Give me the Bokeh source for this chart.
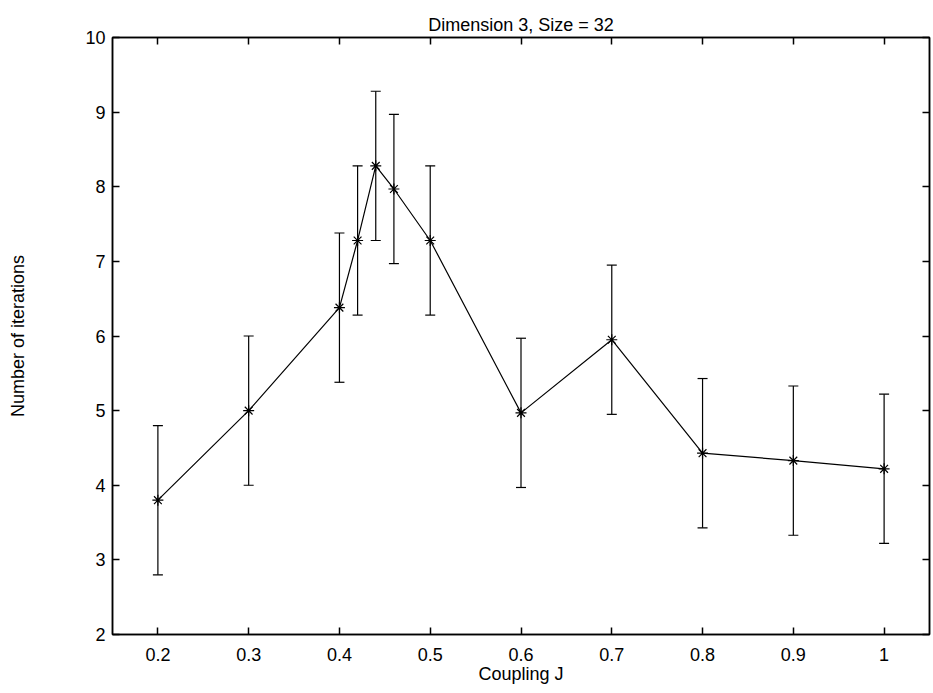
from bokeh.plotting import figure
from bokeh.models import LinearAxis, Whisker, ColumnDataSource, FixedTicker, CustomJSTickFormatter, TeeHead
from bokeh.embed import file_html
from bokeh.resources import INLINE

coupling = [0.2, 0.3, 0.4, 0.42, 0.44, 0.46, 0.5, 0.6, 0.7, 0.8, 0.9, 1.0]
iterations = [3.8, 5.0, 6.38, 7.28, 8.28, 7.97, 7.28, 4.97, 5.95, 4.43, 4.33, 4.22]
err = [1.0] * len(coupling)
x_ticks = [0.2, 0.3, 0.4, 0.5, 0.6, 0.7, 0.8, 0.9, 1.0]
y_ticks = [2, 3, 4, 5, 6, 7, 8, 9, 10]

upper = [v + e for v, e in zip(iterations, err)]
lower = [v - e for v, e in zip(iterations, err)]
src = ColumnDataSource(dict(x=coupling, y=iterations, upper=upper, lower=lower))

FONT = "Liberation Sans"
FS = "18px"

p = figure(width=933, height=693, x_range=(0.15, 1.05), y_range=(2, 10),
           output_backend="svg", toolbar_location=None,
           min_border_left=112, min_border_right=4, min_border_top=37, min_border_bottom=59)
p.title.text = "Dimension 3, Size = 32"
p.title.align = "center"
p.title.offset = 10
p.title.text_font = FONT
p.title.text_font_size = FS
p.title.text_font_style = "normal"
p.title.text_color = "black"
p.title.standoff = 6
p.grid.visible = False
p.outline_line_color = "black"
p.outline_line_width = 1.5
p.background_fill_color = "white"
p.border_fill_color = "white"

for ax in (p.xaxis[0], p.yaxis[0]):
    ax.major_tick_in = 7
    ax.major_tick_out = 0
    ax.minor_tick_line_color = None
    ax.major_label_text_font = FONT
    ax.major_label_text_font_size = FS
    ax.major_label_text_color = "black"
    ax.axis_label_text_font = FONT
    ax.axis_label_text_font_size = FS
    ax.axis_label_text_font_style = "normal"
    ax.axis_label_text_color = "black"
    ax.axis_line_width = 1.5
    ax.major_tick_line_width = 1.5

p.xaxis[0].ticker = FixedTicker(ticks=x_ticks)
p.yaxis[0].ticker = FixedTicker(ticks=y_ticks)
p.xaxis[0].axis_label = "Coupling J"
p.yaxis[0].axis_label = "Number of iterations"
p.xaxis[0].major_label_standoff = 13
p.xaxis[0].axis_label_standoff = 0
p.yaxis[0].major_label_standoff = 7
p.yaxis[0].axis_label_standoff = 54
p.xaxis[0].major_label_overrides = {1.0: "1"}

blank = CustomJSTickFormatter(code="return ''")
top = LinearAxis(ticker=FixedTicker(ticks=x_ticks), formatter=blank,
                 major_tick_in=7, major_tick_out=0, minor_tick_line_color=None,
                 major_label_standoff=0, major_label_text_font_size="1px",
                 axis_line_width=1.5, major_tick_line_width=1.5)
right = LinearAxis(ticker=FixedTicker(ticks=y_ticks), formatter=blank,
                   major_tick_in=7, major_tick_out=0, minor_tick_line_color=None,
                   major_label_standoff=0, major_label_text_font_size="1px",
                   axis_line_width=1.5, major_tick_line_width=1.5)
p.add_layout(top, "above")
p.add_layout(right, "right")

p.add_layout(Whisker(source=src, base="x", upper="upper", lower="lower",
                     line_color="black", line_width=1.2,
                     upper_head=TeeHead(size=10, line_width=1.2, line_color="black"),
                     lower_head=TeeHead(size=10, line_width=1.2, line_color="black")))
p.line("x", "y", source=src, line_color="black", line_width=1.2)
p.scatter("x", "y", source=src, marker="asterisk", size=11, line_color="black", line_width=1.2)

open("out.html", "w").write(file_html(p, INLINE))
